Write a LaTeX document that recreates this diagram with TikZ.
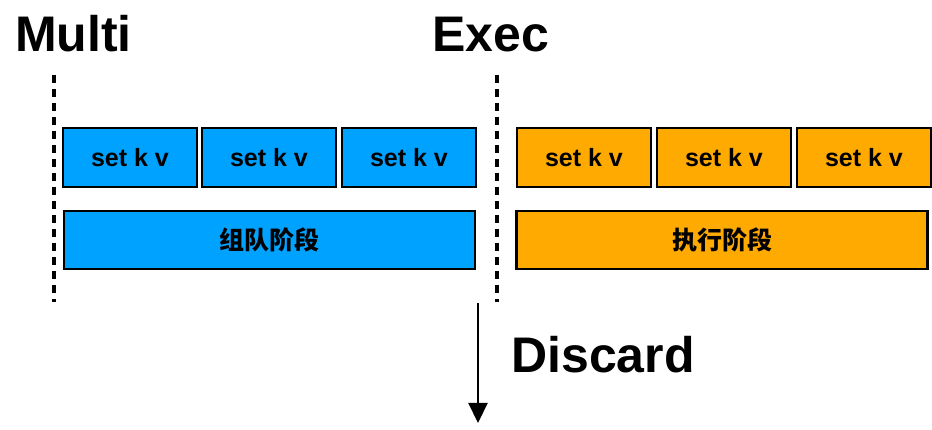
\documentclass[tikz,border=0pt]{standalone}
\usepackage{fontspec}
\setmainfont{Liberation Sans}
\newfontfamily\cjk{Noto Sans CJK SC}
\usetikzlibrary{arrows.meta,positioning}
\definecolor{qblue}{RGB}{0,162,255}
\definecolor{qorange}{RGB}{255,170,0}

\begin{document}
\begin{tikzpicture}[x=1pt,y=1pt,
  cmd/.style={draw,line width=2.5pt,minimum width=134pt,minimum height=59pt,
    inner sep=0pt,font=\fontsize{25}{25}\selectfont\bfseries},
  phase/.style={draw,line width=2.5pt,minimum width=411pt,minimum height=58pt,
    inner sep=0pt,font=\fontsize{25}{25}\selectfont\cjk\bfseries},
  big/.style={inner sep=0pt,anchor=base west,font=\fontsize{50}{50}\selectfont\bfseries},
  sep/.style={line width=3.5pt,dash pattern=on 8pt off 6pt}]
  \useasboundingbox (0,0) rectangle (932,430);
  % queued commands
  \node[cmd,fill=qblue] (q1) at (130,272.5) {set k v};
  \node[cmd,fill=qblue] (q2) at (269,272.5) {set k v};
  \node[cmd,fill=qblue] (q3) at (409,272.5) {set k v};
  \node[phase,fill=qblue] (queue) at (269.5,190) {组队阶段};
  % executed commands
  \node[cmd,fill=qorange] (e1) at (584,272.5) {set k v};
  \node[cmd,fill=qorange] (e2) at (724,272.5) {set k v};
  \node[cmd,fill=qorange] (e3) at (864,272.5) {set k v};
  \node[phase,fill=qorange] (exec) at (722,190) {执行阶段};
  % markers
  \node[big] (multi) at (15,378) {Multi};
  \node[big] (execlbl) at (432,378) {Exec};
  \node[big] (discard) at (511,57) {Discard};
  \coordinate (mtop) at (54,355);
  \coordinate (mbot) at (54,128);
  \coordinate (xtop) at (497,355);
  \coordinate (xbot) at (497,128);
  \coordinate (dtop) at (478,127);
  \coordinate (dbot) at (478,7);
  \draw[sep] (mtop) -- (mbot);
  \draw[sep] (xtop) -- (xbot);
  \draw[line width=2.2pt,-{Triangle[length=20pt,width=19pt]}] (dtop) -- (dbot);
\end{tikzpicture}
\end{document}
